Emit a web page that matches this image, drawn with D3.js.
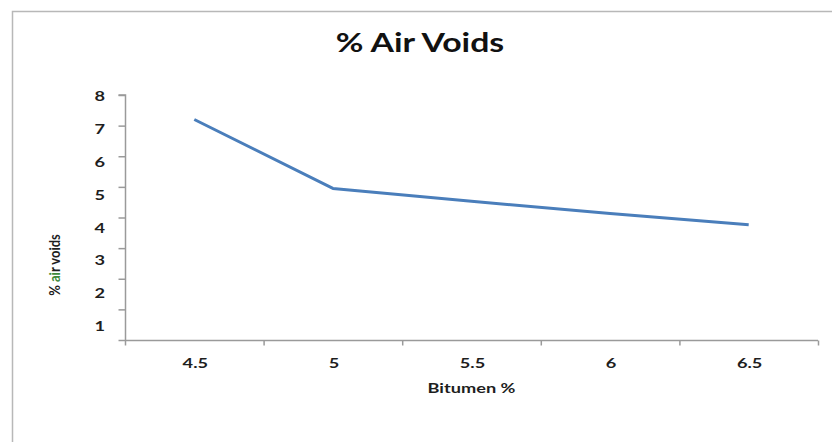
<!DOCTYPE html>
<html>
<head>
<meta charset="utf-8">
<script src="https://cdn.jsdelivr.net/npm/d3@7/dist/d3.min.js"></script>
<style>
  html, body { margin: 0; padding: 0; background: #fff; }
  svg { display: block; }
  text { font-family: Lato, "Open Sans", sans-serif; }
</style>
</head>
<body>
<svg id="chart" width="832" height="442"></svg>
<script>
// Air voids (%) against bitumen content (%)
const categories = ["4.5", "5", "5.5", "6", "6.5"];
const airVoids = [7.2, 4.95, 4.53, 4.13, 3.76];
const yTicks = [1, 2, 3, 4, 5, 6, 7, 8];

const svg = d3.select("#chart");
const W = 832, H = 442;
const plot = { left: 125, right: 818, top: 95, bottom: 340 };
const wide = 1.3;          // horizontal stretch applied to the text
const axisColor = "#9a9a9a";
const textColor = "#1e1e1e";

svg.append("rect").attr("width", W).attr("height", H).attr("fill", "#fff");

// chart area frame
svg.append("rect")
  .attr("x", 12.5).attr("y", 11.5)
  .attr("width", W + 20).attr("height", H + 20)
  .attr("fill", "none").attr("stroke", "#b8b8b8").attr("stroke-width", 1.5);

const x = d3.scaleBand().domain(categories).range([plot.left, plot.right]).paddingInner(0).paddingOuter(0);
const y = d3.scaleLinear().domain([0, 8]).range([plot.bottom, plot.top]);
// tick labels sit on a slightly taller scale than the tick marks
const yLabel = d3.scaleLinear().domain([0, 8]).range([364, 101]);

function label(parent, px, py, txt, size, anchor) {
  return parent.append("text")
    .attr("transform", `translate(${px},${py}) scale(${wide},1)`)
    .attr("text-anchor", anchor || "middle")
    .attr("font-size", size).attr("font-weight", 700).attr("fill", textColor)
    .text(txt);
}

// title
label(svg, 420, 52, "% Air Voids", 26).attr("fill", "#111");

// y axis line and ticks
const yAxis = svg.append("g")
  .attr("transform", `translate(${plot.left + 0.5},0)`)
  .call(d3.axisLeft(y).tickValues([0].concat(yTicks)).tickSize(7).tickFormat(""));
yAxis.selectAll("path, line").attr("stroke", axisColor).attr("stroke-width", 1.5);
yAxis.select(".domain").attr("d", `M-7,${plot.top}H0V${plot.bottom}`);

// y tick labels
const yLab = svg.append("g");
yTicks.forEach(v => label(yLab, 105, yLabel(v), d3.format("d")(v), 14, "end"));

// x axis line with boundary ticks
const xg = svg.append("g").attr("transform", `translate(0,${plot.bottom + 0.5})`);
xg.append("line")
  .attr("x1", plot.left).attr("x2", plot.right)
  .attr("stroke", axisColor).attr("stroke-width", 1.5);
const bounds = categories.map(c => x(c)).concat([x(categories[categories.length - 1]) + x.bandwidth()]);
xg.selectAll("line.tick").data(bounds).join("line")
  .attr("class", "tick")
  .attr("x1", d => d + 0.5).attr("x2", d => d + 0.5)
  .attr("y1", 0).attr("y2", 5)
  .attr("stroke", axisColor).attr("stroke-width", 1.5);
categories.forEach(c => label(xg, x(c) + x.bandwidth() / 2 + 1, 27.5, c, 14));

// axis titles
label(svg, (plot.left + plot.right) / 2, 393, "Bitumen %", 14);

const yTitle = svg.append("text")
  .attr("transform", "translate(60,265) rotate(-90) scale(1,1.2)")
  .attr("text-anchor", "middle")
  .attr("font-size", 13).attr("font-weight", 700).attr("fill", textColor);
yTitle.append("tspan").text("% ");
yTitle.append("tspan").attr("fill", "#3f8a3a").text("ai");
yTitle.append("tspan").text("r voids");

// data line
const line = d3.line()
  .x((d, i) => x(categories[i]) + x.bandwidth() / 2)
  .y(d => y(d));
svg.append("path")
  .datum(airVoids)
  .attr("d", line)
  .attr("fill", "none")
  .attr("stroke", "#4a7ebb")
  .attr("stroke-width", 3)
  .attr("stroke-linejoin", "round");
</script>
</body>
</html>
